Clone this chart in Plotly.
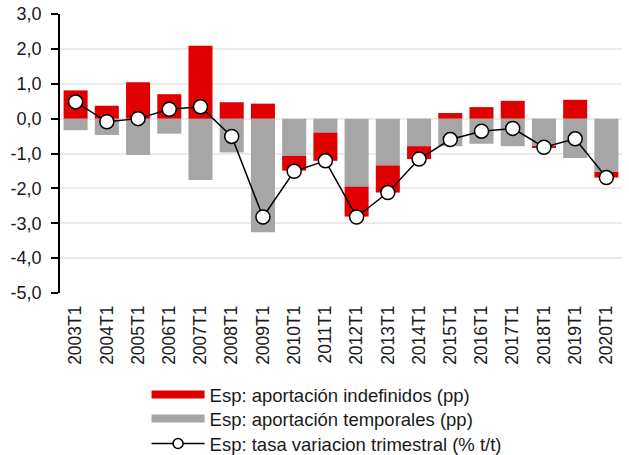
import plotly.graph_objects as go

categories = ['2003T1', '2004T1', '2005T1', '2006T1', '2007T1', '2008T1', '2009T1',
              '2010T1', '2011T1', '2012T1', '2013T1', '2014T1', '2015T1', '2016T1',
              '2017T1', '2018T1', '2019T1', '2020T1']
indefinidos = [0.81, 0.37, 1.04, 0.70, 2.09, 0.47, 0.43, -0.42, -0.81, -0.86, -0.78,
               -0.37, 0.16, 0.33, 0.51, -0.03, 0.54, -0.16]
temporales = [-0.33, -0.47, -1.04, -0.43, -1.76, -0.97, -3.26, -1.07, -0.40, -1.95, -1.34,
              -0.79, -0.79, -0.72, -0.79, -0.79, -1.13, -1.53]
tasa = [0.48, -0.09, 0.00, 0.27, 0.34, -0.51, -2.82, -1.51, -1.21, -2.82, -2.12, -1.16,
        -0.60, -0.36, -0.28, -0.82, -0.58, -1.69]
y_ticks = [-5, -4, -3, -2, -1, 0, 1, 2, 3]
y_tick_labels = ['-5,0', '-4,0', '-3,0', '-2,0', '-1,0', '0,0', '1,0', '2,0', '3,0']

names = ['Esp: aportación indefinidos (pp)', 'Esp: aportación temporales (pp)',
         'Esp: tasa variacion trimestral (% t/t)']
RED = '#e00000'
GRAY = '#a6a6a6'
FONT = 'Liberation Sans, Arial, sans-serif'
TXT = '#1a1a1a'

fig = go.Figure()
# gray first so that negative red stacks below gray (as in the original)
fig.add_trace(go.Bar(x=categories, y=temporales, name=names[1], marker_color=GRAY,
                     marker_line_width=0, showlegend=False))
fig.add_trace(go.Bar(x=categories, y=indefinidos, name=names[0], marker_color=RED,
                     marker_line_width=0, showlegend=False))
fig.add_trace(go.Scatter(x=categories, y=tasa, name=names[2], mode='lines+markers',
                         line=dict(color='black', width=1.5),
                         marker=dict(symbol='circle', size=14, color='white',
                                     line=dict(color='black', width=1.5)),
                         showlegend=False))
# legend entries with wide swatches, one legend per row
fig.add_trace(go.Scatter(x=[None], y=[None], mode='lines', name=names[0],
                         line=dict(color=RED, width=8), legend='legend'))
fig.add_trace(go.Scatter(x=[None], y=[None], mode='lines', name=names[1],
                         line=dict(color=GRAY, width=8), legend='legend2'))
fig.add_trace(go.Scatter(x=[None], y=[None], mode='lines+markers', name=names[2],
                         line=dict(color='black', width=1.5),
                         marker=dict(symbol='circle', size=10, color='white',
                                     line=dict(color='black', width=1.5)),
                         legend='legend3'))

fig.add_shape(type='line', xref='paper', x0=0, x1=1, yref='y', y0=0, y1=0,
              line=dict(color='black', width=1.2), layer='below')

def leg(yc):
    return dict(x=0.154, xanchor='left', y=yc, yanchor='middle',
                orientation='v', itemwidth=53, font=dict(size=18.5, color=TXT),
                bgcolor='rgba(0,0,0,0)', borderwidth=0)

fig.update_layout(
    width=629, height=455,
    margin=dict(l=60, r=7, t=14, b=162, autoexpand=False),
    barmode='relative', bargap=0.23,
    plot_bgcolor='white', paper_bgcolor='white',
    font=dict(family=FONT, size=18, color=TXT),
    legend=leg(-0.3656),
    legend2=leg(-0.4516),
    legend3=leg(-0.5412),
    xaxis=dict(type='category', range=[-0.5, len(categories) - 0.5],
               tickangle=-90, showgrid=False, showline=False,
               zeroline=False, ticks='', tickfont=dict(size=17.5, color=TXT),
               ticklabelstandoff=8, automargin=False),
    yaxis=dict(range=[-5, 3], tickvals=y_ticks, ticktext=y_tick_labels,
               showgrid=True, gridcolor='#ebebeb', gridwidth=1.5,
               showline=True, linecolor='black', linewidth=1.5,
               ticks='outside', ticklen=7, tickcolor='black', tickwidth=1.5,
               ticklabelstandoff=6,
               zeroline=False, tickfont=dict(size=18, color=TXT),
               automargin=False),
)

fig.write_html('out.html', config={'displayModeBar': False},
               post_script="document.body.style.margin='0';")
